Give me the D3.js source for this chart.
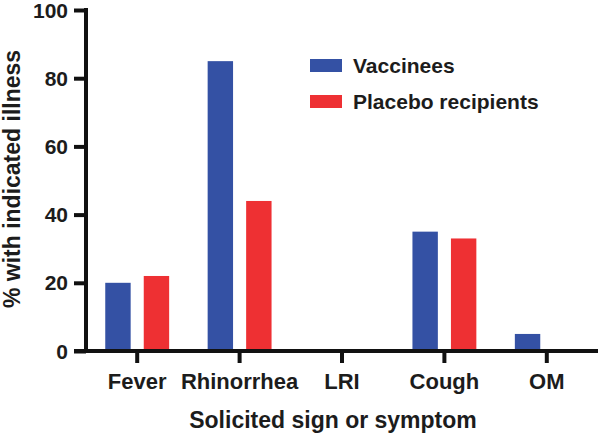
<html>
<head>
  <title>Solicited signs</title>
  <script src="https://cdnjs.cloudflare.com/ajax/libs/d3/7.8.5/d3.min.js"></script>
  <style>
    body { margin: 0; background: #fff; }
    text { font-family: "Liberation Sans", Arial, sans-serif; font-weight: bold; fill: #1c1c1c; }
  </style>
</head>
<body>
<script type="text/javascript">
  // categories and series
  var categories = ["Fever", "Rhinorrhea", "LRI", "Cough", "OM"];
  var series = ["Vaccinees", "Placebo recipients"];
  var vaccinees = [20, 85, 0, 35, 5];
  var placebo = [22, 44, 0, 33, 0];
  var yTicks = [0, 20, 40, 60, 80, 100];
  var colors = ["#3451a4", "#ee3033"];

  var width = 600, height = 433;

  var svg = d3.select("body")
    .append("svg")
    .attr("width", width)
    .attr("height", height);

  var x0 = d3.scaleBand()
    .domain(categories)
    .range([86, 598]);

  var x1 = d3.scaleBand()
    .domain(series)
    .range([0, x0.bandwidth()])
    .paddingInner(0.34)
    .paddingOuter(0.5);

  var y = d3.scaleLinear()
    .domain([0, 100])
    .range([351, 10]);

  var color = d3.scaleOrdinal().domain(series).range(colors);

  // bars
  var rows = categories.map(function (c, i) {
    return { cat: c, values: [vaccinees[i], placebo[i]] };
  });

  var groups = svg.selectAll("g.grp")
    .data(rows)
    .enter()
    .append("g")
    .attr("class", "grp")
    .attr("transform", function (d) { return "translate(" + x0(d.cat) + ",0)"; });

  groups.selectAll("rect")
    .data(function (d) {
      return series.map(function (s, j) { return { key: s, value: d.values[j] }; });
    })
    .enter()
    .append("rect")
    .attr("x", function (d) { return x1(d.key); })
    .attr("width", x1.bandwidth())
    .attr("y", function (d) { return y(d.value); })
    .attr("height", function (d) { return y(0) - y(d.value); })
    .attr("fill", function (d) { return color(d.key); });

  // y axis
  var yAxis = svg.append("g")
    .attr("transform", "translate(86,0)")
    .call(d3.axisLeft(y).tickValues(yTicks).tickSize(12).tickPadding(6));

  // x axis
  var xAxis = svg.append("g")
    .attr("transform", "translate(0,351)")
    .call(d3.axisBottom(x0).tickSize(12).tickPadding(10));

  [yAxis, xAxis].forEach(function (ax) {
    ax.select(".domain").attr("stroke", "#111").attr("stroke-width", 4);
    ax.selectAll(".tick line").attr("stroke", "#111").attr("stroke-width", 4);
    ax.selectAll(".tick text").style("font-size", "21px").attr("fill", "#1c1c1c");
  });
  xAxis.selectAll(".tick text").style("font-size", "22px");
  // extend the baseline to the left like the original
  xAxis.select(".domain").attr("d", "M74,0H598");
  yAxis.select(".domain").attr("d", "M0,8V351");
  yAxis.selectAll(".tick text").attr("dy", "0.34em");

  // axis titles
  svg.append("text")
    .attr("transform", "translate(20," + 179 + ") rotate(-90)")
    .attr("text-anchor", "middle")
    .style("font-size", "23px")
    .text("% with indicated illness");

  svg.append("text")
    .attr("x", 333)
    .attr("y", 428)
    .attr("text-anchor", "middle")
    .style("font-size", "23px")
    .text("Solicited sign or symptom");

  // legend
  var legend = svg.selectAll("g.leg")
    .data(series)
    .enter()
    .append("g")
    .attr("class", "leg")
    .attr("transform", function (d, i) { return "translate(310," + (59 + i * 36) + ")"; });

  legend.append("rect")
    .attr("width", 32)
    .attr("height", 13)
    .attr("fill", function (d) { return color(d); });

  legend.append("text")
    .attr("x", 43)
    .attr("y", 14)
    .style("font-size", "21px")
    .text(function (d) { return d; });
</script>
</body>
</html>
